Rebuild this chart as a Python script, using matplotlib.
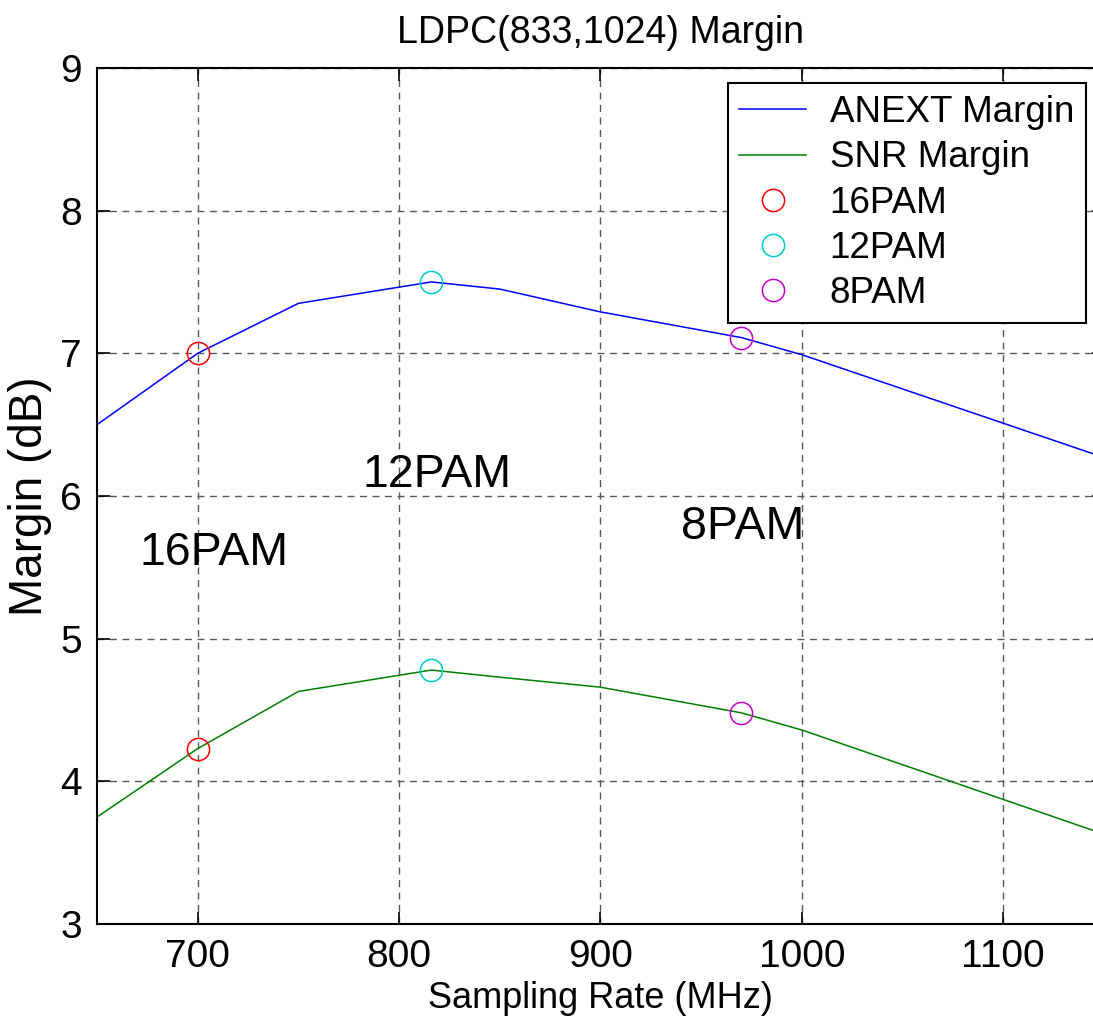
import numpy as np
import matplotlib
matplotlib.use('Agg')
import matplotlib.pyplot as plt

plt.rcParams['font.family'] = ['Liberation Sans', 'DejaVu Sans']

# Sampling rate sweep (MHz) and the two margin curves (dB)
rate = [650, 700, 750, 816, 850, 900, 970, 1000, 1150]
anext_margin = [6.50, 7.00, 7.35, 7.50, 7.45, 7.29, 7.11, 6.99, 6.27]
snr_margin = [3.75, 4.23, 4.63, 4.78, 4.73, 4.66, 4.48, 4.36, 3.63]

# Operating points for each modulation
pam_names = ['16PAM', '12PAM', '8PAM']
pam_rate = [700, 816, 970]
pam_anext = [7.00, 7.50, 7.11]
pam_snr = [4.23, 4.78, 4.48]
pam_colors = ['#ff0000', '#00cccc', '#cc00cc']

# Region labels
region_x = [671, 782, 940]
region_y = [5.60, 6.15, 5.78]

fig = plt.figure(figsize=(10.93, 10.29), dpi=100)
ax = fig.add_axes([0.0888, 0.102, 0.9212, 0.832])

ax.plot(rate, anext_margin, color='#0000ff', lw=1.1, label='ANEXT Margin')
ax.plot(rate, snr_margin, color='#008000', lw=1.1, label='SNR Margin')
for name, r, a, s, c in zip(pam_names, pam_rate, pam_anext, pam_snr, pam_colors):
    ax.plot([r, r], [a, s], 'o', ms=16, mfc='none', mec=c, mew=1.1, label=name)

for name, x, y in zip(pam_names, region_x, region_y):
    ax.text(x, y, name, fontsize=33.5, ha='left', va='center')

ax.set_xlim(650, 1150)
ax.set_ylim(3, 9)
ax.set_xticks([700, 800, 900, 1000, 1100])
ax.set_yticks(np.arange(3, 10))
ax.tick_params(direction='in', top=True, right=True, length=9, width=1.2,
               labelsize=28, pad=11)
ax.grid(True, color='0.35', linestyle=(0, (5, 4)), linewidth=1.0)
for sp in ax.spines.values():
    sp.set_linewidth(1.5)

ax.set_title('LDPC(833,1024) Margin', fontsize=27, pad=18)
ax.set_xlabel('Sampling Rate (MHz)', fontsize=26, labelpad=4)
ax.set_ylabel('Margin (dB)', fontsize=33, labelpad=6)

leg = ax.legend(loc='upper right', bbox_to_anchor=(0.982, 0.982), borderaxespad=0,
                fontsize=26.5, fancybox=False, framealpha=1, edgecolor='black',
                handlelength=1.8, handletextpad=0.65, borderpad=0.32,
                labelspacing=0.28)
leg.get_frame().set_linewidth(1.5)

fig.savefig('out.png', dpi=100)
